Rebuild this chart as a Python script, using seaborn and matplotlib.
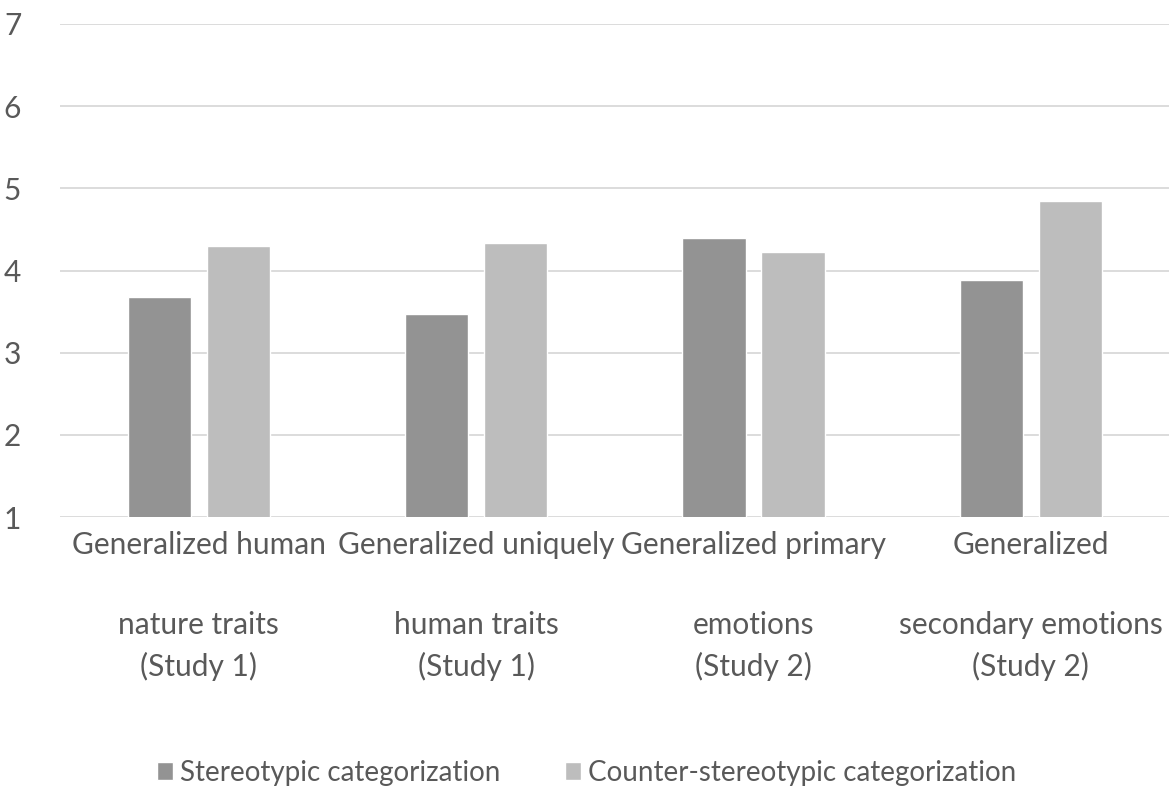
import pandas as pd
import matplotlib.pyplot as plt
import seaborn as sns

# values
categories = [
    "Generalized human\n\nnature traits\n(Study 1)",
    "Generalized uniquely\n\nhuman traits\n(Study 1)",
    "Generalized primary\n\nemotions\n(Study 2)",
    "Generalized\n\nsecondary emotions\n(Study 2)",
]
series_names = ["Stereotypic categorization", "Counter-stereotypic categorization"]
stereotypic = [3.68, 3.47, 4.39, 3.88]
counter_stereotypic = [4.30, 4.33, 4.23, 4.85]
bar_colors = ["#939393", "#BDBDBD"]

df = pd.DataFrame({
    "category": categories * 2,
    "series": [series_names[0]] * 4 + [series_names[1]] * 4,
    "value": stereotypic + counter_stereotypic,
})

sns.set_style("white")
plt.rcParams["font.family"] = ["Lato", "DejaVu Sans"]
text_color = "#595959"

fig = plt.figure(figsize=(11.73, 7.92), dpi=100)
ax = fig.add_axes([0.0512, 0.3472, 0.9458, 0.6225])

sns.barplot(data=df, x="category", y="value", hue="series", palette=bar_colors,
            saturation=1, width=0.57, gap=0.2, ax=ax, zorder=3)

ax.set_ylim(1, 7)
ax.set_yticks(range(1, 8))
ax.set_xlim(-0.5, 3.5)
ax.yaxis.grid(True, color="#D9D9D9", linewidth=1.3, zorder=0)
ax.xaxis.grid(False)
ax.set_axisbelow(True)
for s in ax.spines.values():
    s.set_visible(False)
ax.set_xlabel("")
ax.set_ylabel("")
ax.tick_params(axis="both", length=0, colors=text_color, labelsize=21.5)
ax.tick_params(axis="y", pad=28)
ax.tick_params(axis="x", pad=10)
for lbl in ax.get_xticklabels():
    lbl.set_linespacing(1.53)

handles, labels = ax.get_legend_handles_labels()
ax.get_legend().remove()
fig.legend(handles, labels, loc="center", bbox_to_anchor=(0.5, 0.024),
           ncol=2, frameon=False, fontsize=20, labelcolor=text_color,
           handlelength=0.6, handleheight=0.6, handletextpad=0.25,
           columnspacing=2.3)

fig.savefig("out.png", dpi=100, facecolor="white")
